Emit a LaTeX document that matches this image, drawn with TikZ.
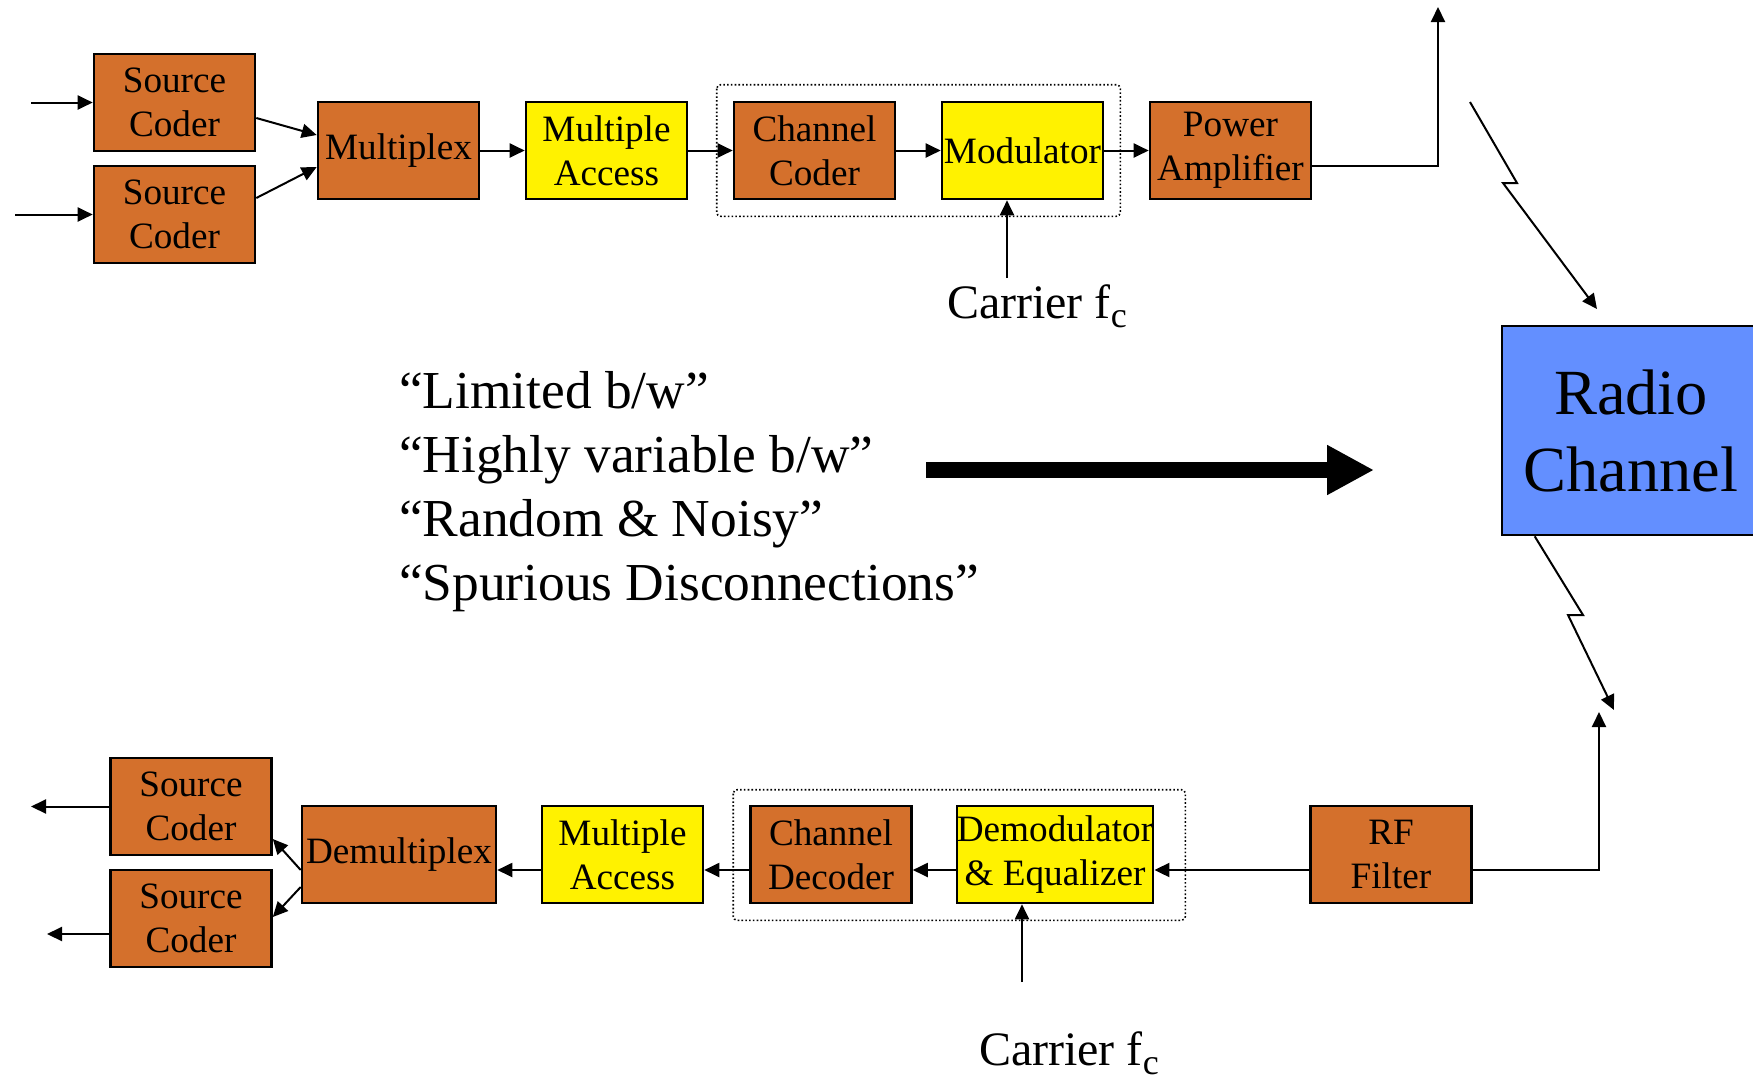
\documentclass[tikz,border=0pt]{standalone}
\usepackage{fontspec}
\setmainfont{Liberation Serif}
\usepackage{tikz}
\usetikzlibrary{positioning,calc,arrows.meta}
\definecolor{rust}{RGB}{212,112,44}
\definecolor{chanblue}{RGB}{99,143,255}

\begin{document}
\begin{tikzpicture}[x=0.5pt,y=-0.5pt,>={Triangle[length=7.5pt,width=7pt]},line width=1pt]
    \tikzstyle{block}=[rectangle,draw=black,line width=1.3pt,minimum width=80.5pt,minimum height=48.5pt,inner sep=0pt,align=center,font=\fontsize{18.6}{22.2}\selectfont]
    \tikzstyle{wide block}=[block,minimum width=97pt]
    \tikzstyle{channel}=[block,fill=chanblue,minimum width=129pt,minimum height=104.5pt,font=\fontsize{32.2}{38.5}\selectfont]
    \tikzstyle{note}=[anchor=base west,inner sep=0pt,font=\fontsize{26.7}{30}\selectfont]
    \tikzstyle{carrier}=[anchor=base west,inner sep=0pt,font=\fontsize{24}{28}\selectfont]
    \tikzstyle{group}=[draw=black,line width=0.8pt,dash pattern=on 0.8pt off 1.1pt,rounded corners=2pt]

    \newcommand{\boxsep}{208}
    \newcommand{\fc}{f\raisebox{-4.5pt}{\fontsize{18}{18}\selectfont c}}

    \useasboundingbox (0,0) rectangle (1753,1083);
    \clip (0,0) rectangle (1753,1083);

    % Draw the transmitter nodes
    \node[block, fill=rust] (Src-1) at (174.5,102.5) {Source\\Coder};
    \node[block, fill=rust] (Src-2) at (174.5,214.5) {Source\\Coder};
    \foreach \name/\txt/\col [count=\i] in {Mux/Multiplex/rust, MA/{Multiple\\Access}/yellow,
            CC/{Channel\\Coder}/rust, Mod/Modulator/yellow, PA/{Power\\Amplifier}/rust}
        \node[block, fill=\col] (\name) at (190.5+\boxsep*\i,150.5) {\txt};
    \draw[group] ($(CC.north west)+(-16,-16)$) rectangle ($(Mod.south east)+(16,16)$);

    % Draw the receiver nodes
    \node[block, fill=rust] (Src-3) at (191,806.5) {Source\\Coder};
    \node[block, fill=rust] (Src-4) at (191,918.5) {Source\\Coder};
    \node[wide block, fill=rust] (Demux) at (399,854.5) {Demultiplex};
    \node[block, fill=yellow] (MA-2) at (622.5,854.5) {Multiple\\Access};
    \node[block, fill=rust] (CD) at (831,854.5) {Channel\\Decoder};
    \node[wide block, fill=yellow] (Dem) at (1055,854.5) {Demodulator\\\& Equalizer};
    \node[block, fill=rust] (RF) at (1391,854.5) {RF\\Filter};
    \draw[group] ($(CD.north west)+(-16,-15)$) rectangle ($(Dem.south east)+(31,16)$);

    % The channel in between
    \node[channel] (RC) at (1631,430.5) {Radio\\Channel};

    % Free ends of the connectors
    \coordinate (in-1) at (31,102.5);
    \coordinate (in-2) at (15,214.5);
    \coordinate (ant-tx) at (1438,7);
    \coordinate (car-1) at (1007,278);
    \coordinate (bolt-1) at (1470,102);
    \coordinate (bolt-1-end) at (1597,309);
    \coordinate (bolt-2-end) at (1614,710);
    \coordinate (ant-rx) at (1599,712);
    \coordinate (car-2) at (1022,982);
    \coordinate (out-1) at (31,806.5);
    \coordinate (out-2) at (47,934);
    \coordinate (big-start) at (926,470);
    \coordinate (big-end) at (1374,470);

    % Connect the transmitter chain
    \draw[->] (in-1) -- (Src-1);
    \draw[->] (in-2) -- (Src-2);
    \draw[->] ($(Src-1.east)+(0,15.5)$) -- ($(Mux.west)+(0,-15.5)$);
    \draw[->] ($(Src-2.east)+(0,-16.5)$) -- ($(Mux.west)+(0,16.5)$);
    \foreach \source/\dest in {Mux/MA, MA/CC, CC/Mod, Mod/PA}
        \draw[->] (\source) -- (\dest);
    \draw[->] ([yshift=-7.75pt]PA.east) -| (ant-tx);
    \draw[->] (car-1) -- (car-1 |- Mod.south);
    \node[carrier] (car-lbl-1) at (946,318) {Carrier \fc};

    % Radio links
    \draw[->] (bolt-1) -- (1517,183) -- (1503,183) -- (bolt-1-end);
    \draw[->] ($(RC.south west)+(34,0)$) -- (1583,615) -- (1568,615) -- (bolt-2-end);

    % Connect the receiver chain
    \draw[->] ([yshift=-7.75pt]RF.east) -| (ant-rx);
    \foreach \source/\dest in {RF/Dem, Dem/CD, CD/MA-2, MA-2/Demux}
        \draw[->] ([yshift=-7.75pt]\source.west) -- ([yshift=-7.75pt]\dest.east);
    \draw[->] ($(Demux.west)+(0,15.5)$) -- ($(Src-3.east)+(0,32.5)$);
    \draw[->] ($(Demux.west)+(0,32.5)$) -- ($(Src-4.east)+(0,-1.5)$);
    \draw[->] (Src-3) -- (out-1);
    \draw[->] ([yshift=-7.75pt]Src-4.west) -- (out-2);
    \draw[->] (car-2) -- (car-2 |- Dem.south);
    \node[carrier] (car-lbl-2) at (978,1065) {Carrier \fc};

    % Annotate the channel
    \foreach \txt [count=\i] in {{“Limited b/w”}, {“Highly variable b/w”}, {“Random \& Noisy”}, {“Spurious Disconnections”}}
        \node[note] (note-\i) at (398,344+64*\i) {\txt};
    \draw[line width=8pt,-{Triangle[length=23.5pt,width=23.5pt]}] (big-start) -- (big-end);
\end{tikzpicture}
\end{document}
